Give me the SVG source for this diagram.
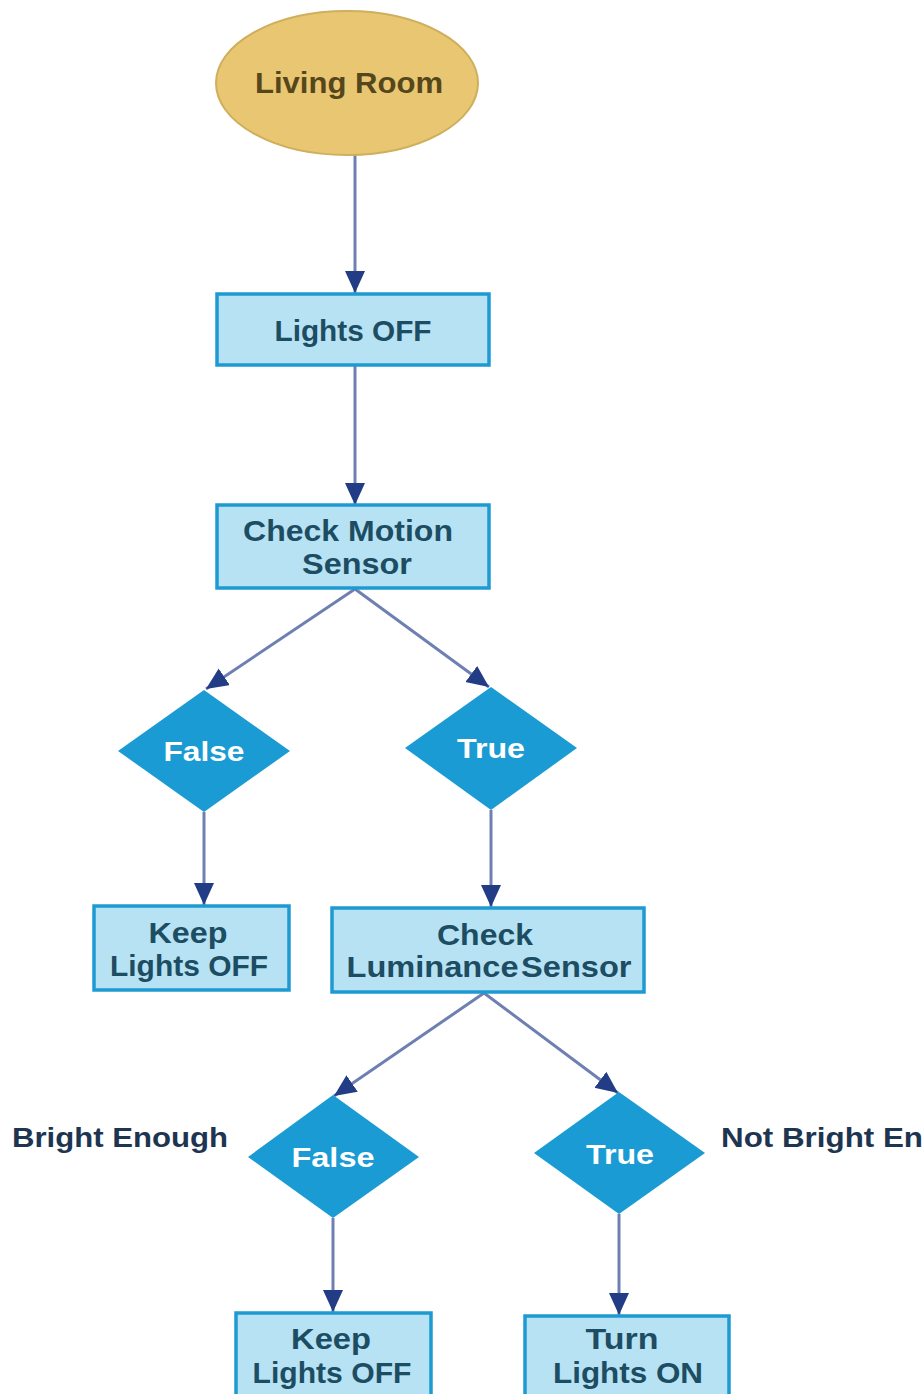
<svg xmlns="http://www.w3.org/2000/svg" width="923" height="1394" viewBox="0 0 923 1394">
<style>
.box{fill:#b6e2f4;stroke:#1e9ad2;stroke-width:3.5}
.dia{fill:#1b9bd3}
.bt{font-family:"Liberation Sans",Arial,sans-serif;font-weight:bold;font-size:30px;fill:#1d4d62;text-anchor:middle}
.dt{font-family:"Liberation Sans",Arial,sans-serif;font-weight:bold;font-size:28px;fill:#ffffff;text-anchor:middle}
.lb{font-family:"Liberation Sans",Arial,sans-serif;font-weight:bold;font-size:27px;fill:#1e3552}
.con{stroke:#6e7fb2;stroke-width:3;fill:none;marker-end:url(#ah)}
</style>
<defs>
<marker id="ah" markerUnits="userSpaceOnUse" markerWidth="24" markerHeight="22" refX="22" refY="10" orient="auto">
<path d="M0,0 L22,10 L0,20 z" fill="#223d85"/>
</marker>
</defs>
<rect width="923" height="1394" fill="#ffffff"/>
<g id="connectors">
<line class="con" x1="355" y1="155" x2="355" y2="293"/>
<line class="con" x1="355" y1="366" x2="355" y2="505"/>
<line class="con" x1="355" y1="589" x2="206" y2="689"/>
<line class="con" x1="355" y1="589" x2="489" y2="687"/>
<line class="con" x1="204" y1="812" x2="204" y2="905"/>
<line class="con" x1="491" y1="810" x2="491" y2="907"/>
<line class="con" x1="484" y1="993" x2="334" y2="1096"/>
<line class="con" x1="484" y1="993" x2="618" y2="1093"/>
<line class="con" x1="333" y1="1218" x2="333" y2="1312"/>
<line class="con" x1="619" y1="1214" x2="619" y2="1315"/>
</g>
<g id="living-room">
<ellipse cx="347" cy="83" rx="131" ry="72" fill="#e9c671" stroke="#cfae5c" stroke-width="2"/>
<text class="bt" x="349" y="93" style="fill:#55461c" textLength="188" lengthAdjust="spacingAndGlyphs">Living Room</text>
</g>
<g id="lights-off">
<rect class="box" x="217" y="294" width="272" height="71"/>
<text class="bt" x="353" y="341" textLength="157" lengthAdjust="spacingAndGlyphs">Lights OFF</text>
</g>
<g id="check-motion">
<rect class="box" x="217" y="505" width="272" height="83"/>
<text class="bt" x="348" y="541" textLength="210" lengthAdjust="spacingAndGlyphs">Check Motion</text>
<text class="bt" x="357" y="574" textLength="110" lengthAdjust="spacingAndGlyphs">Sensor</text>
</g>
<g id="false1">
<polygon class="dia" points="204,690 290,751 204,812 118,751"/>
<text class="dt" x="204" y="761" textLength="81" lengthAdjust="spacingAndGlyphs">False</text>
</g>
<g id="true1">
<polygon class="dia" points="491,687 577,748 491,810 405,748"/>
<text class="dt" x="491" y="758" textLength="68" lengthAdjust="spacingAndGlyphs">True</text>
</g>
<g id="keep-off-1">
<rect class="box" x="94" y="906" width="195" height="84"/>
<text class="bt" x="188" y="943" textLength="79" lengthAdjust="spacingAndGlyphs">Keep</text>
<text class="bt" x="189" y="976" textLength="158" lengthAdjust="spacingAndGlyphs">Lights OFF</text>
</g>
<g id="check-luminance">
<rect class="box" x="332" y="908" width="312" height="84"/>
<text class="bt" x="485" y="945" textLength="96" lengthAdjust="spacingAndGlyphs">Check</text>
<text class="bt" x="489" y="977" textLength="285" lengthAdjust="spacingAndGlyphs" word-spacing="-6">Luminance Sensor</text>
</g>
<g id="false2">
<polygon class="dia" points="333,1095 419,1157 333,1218 248,1157"/>
<text class="dt" x="333" y="1167" textLength="83" lengthAdjust="spacingAndGlyphs">False</text>
</g>
<g id="true2">
<polygon class="dia" points="619,1092 705,1153 619,1214 534,1153"/>
<text class="dt" x="620" y="1164" textLength="68" lengthAdjust="spacingAndGlyphs">True</text>
</g>
<g id="labels">
<text class="lb" x="12" y="1147" textLength="216" lengthAdjust="spacingAndGlyphs">Bright Enough</text>
<text class="lb" x="721" y="1147" textLength="202" lengthAdjust="spacingAndGlyphs">Not Bright En</text>
</g>
<g id="keep-off-2">
<rect class="box" x="236" y="1313" width="195" height="95"/>
<text class="bt" x="331" y="1349" textLength="80" lengthAdjust="spacingAndGlyphs">Keep</text>
<text class="bt" x="332" y="1383" textLength="159" lengthAdjust="spacingAndGlyphs">Lights OFF</text>
</g>
<g id="turn-on">
<rect class="box" x="525" y="1316" width="204" height="95"/>
<text class="bt" x="622" y="1349" textLength="73" lengthAdjust="spacingAndGlyphs">Turn</text>
<text class="bt" x="628" y="1383" textLength="150" lengthAdjust="spacingAndGlyphs">Lights ON</text>
</g>
</svg>
